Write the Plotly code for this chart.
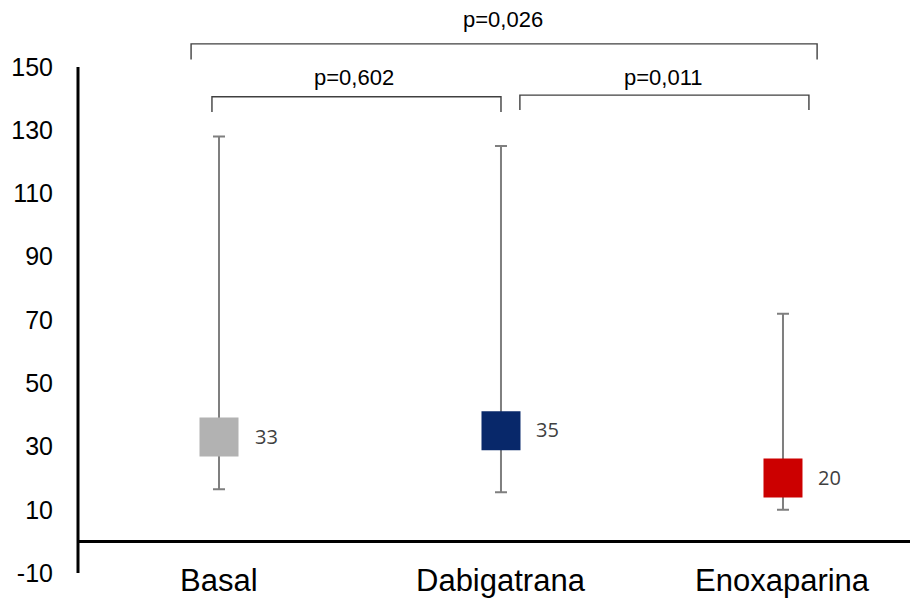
import plotly.graph_objects as go

categories = ["Basal", "Dabigatrana", "Enoxaparina"]
median_vals = [33, 35, 20]
min_vals = [16.5, 15.5, 10]
max_vals = [128, 125, 72]
value_labels = ["33", "35", "20"]
colors = ["#b2b2b2", "#08286a", "#cc0000"]
ytick_vals = [-10, 10, 30, 50, 70, 90, 110, 130, 150]
ytick_text = ["-10", "10", "30", "50", "70", "90", "110", "130", "150"]

# significance brackets: (x_left, x_right, y_top, y_tick_bottom, label, label_x, label_y)
brackets = [
    (-0.099, 2.121, 157.3, 152.4, "p=0,026", 1.007, 164.9),
    (-0.025, 1.000, 140.6, 135.8, "p=0,602", 0.477, 146.8),
    (1.067, 2.092, 141.1, 136.4, "p=0,011", 1.576, 146.8),
]

xs = list(range(len(categories)))

fig = go.Figure()
fig.add_trace(go.Scatter(
    x=xs, y=median_vals, mode="markers",
    marker=dict(symbol="square", size=39, color=colors, line=dict(width=0)),
    error_y=dict(type="data", symmetric=False,
                 array=[mx - m for mx, m in zip(max_vals, median_vals)],
                 arrayminus=[m - mn for m, mn in zip(median_vals, min_vals)],
                 color="#7f7f7f", thickness=2, width=6),
    showlegend=False, hoverinfo="skip",
))

annotations = []
for i, (cat, v, lab) in enumerate(zip(categories, median_vals, value_labels)):
    annotations.append(dict(x=i, y=v, text=lab, showarrow=False, xshift=47, yshift=1,
                            font=dict(family="Open Sans", size=20, color="#404040")))
    annotations.append(dict(x=i, y=-10, text=cat, showarrow=False, yshift=-7,
                            yanchor="middle",
                            font=dict(family="Liberation Sans, Arial", size=31, color="black")))

shapes = []
for x0, x1, yt, yb, lab, lx, ly in brackets:
    shapes.append(dict(type="path", xref="x", yref="y",
                       path=f"M {x0},{yb} L {x0},{yt} L {x1},{yt} L {x1},{yb}",
                       line=dict(color="#404040", width=1.4)))
    annotations.append(dict(x=lx, y=ly, text=lab, showarrow=False,
                            font=dict(family="Liberation Sans, Arial", size=22, color="black")))

# y axis line from -10 to 150
shapes.append(dict(type="line", xref="paper", yref="y", x0=0, x1=0,
                   y0=ytick_vals[0], y1=ytick_vals[-1],
                   line=dict(color="black", width=3)))

fig.update_layout(
    width=910, height=599,
    margin=dict(l=78, r=0, t=17, b=26, autoexpand=False),
    plot_bgcolor="white", paper_bgcolor="white",
    xaxis=dict(range=[-0.5, 2.4504], showgrid=False, zeroline=False, showline=False,
               showticklabels=False, ticks="", automargin=False),
    yaxis=dict(range=[-10, 165.8], tickvals=ytick_vals, ticktext=ytick_text, showgrid=False,
               zeroline=True, zerolinecolor="black", zerolinewidth=3,
               showline=False, ticks="", ticklabelstandoff=24, automargin=False,
               tickfont=dict(family="Liberation Sans, Arial", size=25, color="black")),
    shapes=shapes, annotations=annotations,
)

fig.write_html("out.html", config={"displayModeBar": False},
               post_script="document.body.style.margin='0';document.body.style.overflow='hidden';")
